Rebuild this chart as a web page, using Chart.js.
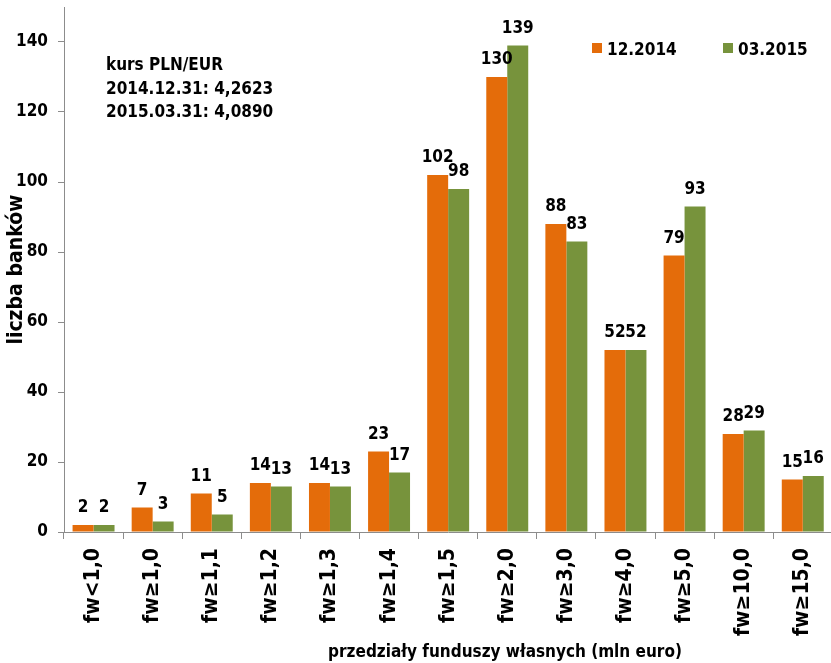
<!DOCTYPE html>
<html>
<head>
<meta charset="utf-8">
<script src="https://cdn.jsdelivr.net/npm/chart.js@4.4.0/dist/chart.umd.min.js"></script>
<style>
  html, body { margin: 0; padding: 0; background: #fff; overflow: hidden; }
  #wrap { width: 831px; height: 663px; overflow: hidden; }
</style>
</head>
<body>
<div id="wrap"><canvas id="chart" width="837" height="663"></canvas></div>
<script>
const categories = ["fw<1,0", "fw≥1,0", "fw≥1,1", "fw≥1,2", "fw≥1,3", "fw≥1,4", "fw≥1,5",
  "fw≥2,0", "fw≥3,0", "fw≥4,0", "fw≥5,0", "fw≥10,0", "fw≥15,0"];
const values2014 = [2, 7, 11, 14, 14, 23, 102, 130, 88, 52, 79, 28, 15];
const values2015 = [2, 3, 5, 13, 13, 17, 98, 139, 83, 52, 93, 29, 16];
const seriesNames = ["12.2014", "03.2015"];
const yTickValues = [0, 20, 40, 60, 80, 100, 120, 140];
const rateNote = ["kurs PLN/EUR", "2014.12.31: 4,2623", "2015.03.31: 4,0890"];
const xTitle = "przedziały funduszy własnych (mln euro)";
const yTitle = "liczba banków";

const FONT = '"DejaVu Sans Condensed", "Liberation Sans Narrow", "DejaVu Sans", sans-serif';
const orange = "#E46C0A";
const green = "#77933C";
const axisGray = "#8c8c8c";

// numbers above each bar
const valueLabels = {
  id: "valueLabels",
  afterDatasetsDraw(chart) {
    const ctx = chart.ctx;
    ctx.save();
    ctx.font = "bold 17px " + FONT;
    ctx.fillStyle = "#000";
    ctx.textAlign = "center";
    ctx.textBaseline = "alphabetic";
    chart.data.datasets.forEach((ds, i) => {
      chart.getDatasetMeta(i).data.forEach((bar, j) => {
        ctx.fillText(String(ds.data[j]), bar.x, bar.y - 13);
      });
    });
    ctx.restore();
  }
};

// legend, exchange rate note and axis titles
const extras = {
  id: "extras",
  afterDraw(chart) {
    const ctx = chart.ctx;
    const area = chart.chartArea;
    ctx.save();
    ctx.font = "bold 17px " + FONT;
    ctx.fillStyle = "#000";
    ctx.textBaseline = "alphabetic";
    ctx.textAlign = "left";

    // legend
    const legendX = [592, 723];
    chart.data.datasets.forEach((ds, i) => {
      ctx.fillStyle = ds.backgroundColor;
      ctx.fillRect(legendX[i], 43, 10, 10);
      ctx.fillStyle = "#000";
      ctx.fillText(ds.label, legendX[i] + 15, 55);
    });

    // note
    rateNote.forEach((line, i) => {
      ctx.fillText(line, 106, 70 + i * 23.5);
    });

    // x title
    ctx.textAlign = "center";
    ctx.fillText(xTitle, 505, 657);

    // y title
    ctx.font = "bold 21px " + FONT;
    ctx.translate(22, (area.top + area.bottom) / 2);
    ctx.rotate(-Math.PI / 2);
    ctx.fillText(yTitle, 0, 0);
    ctx.restore();
  }
};

new Chart(document.getElementById("chart"), {
  type: "bar",
  data: {
    labels: categories,
    datasets: [
      { label: seriesNames[0], data: values2014, backgroundColor: orange },
      { label: seriesNames[1], data: values2015, backgroundColor: green }
    ]
  },
  options: {
    responsive: false,
    animation: false,
    layout: { padding: { left: 0, right: 1, top: 7, bottom: 0 } },
    datasets: { bar: { categoryPercentage: 0.71, barPercentage: 1.0 } },
    plugins: {
      legend: { display: false },
      tooltip: { enabled: false }
    },
    scales: {
      x: {
        afterFit: (s) => { s.height = 131; },
        grid: { offset: true, drawOnChartArea: false, tickLength: 7, color: axisGray },
        border: { color: axisGray },
        ticks: {
          autoSkip: false,
          minRotation: 90,
          maxRotation: 90,
          padding: 9,
          color: "#000",
          font: { family: FONT, size: 21, weight: "bold" }
        }
      },
      y: {
        min: 0,
        max: 150,
        afterFit: (s) => { s.width = 64; s.paddingTop = 0; s.paddingBottom = 0; },
        afterBuildTicks: (s) => { s.ticks = yTickValues.map(v => ({ value: v })); },
        grid: { drawOnChartArea: false, tickLength: 6, color: axisGray },
        border: { color: axisGray },
        ticks: {
          stepSize: 20,
          padding: 10,
          color: "#000",
          font: { family: FONT, size: 17, weight: "bold" }
        }
      }
    }
  },
  plugins: [valueLabels, extras]
});
</script>
</body>
</html>
